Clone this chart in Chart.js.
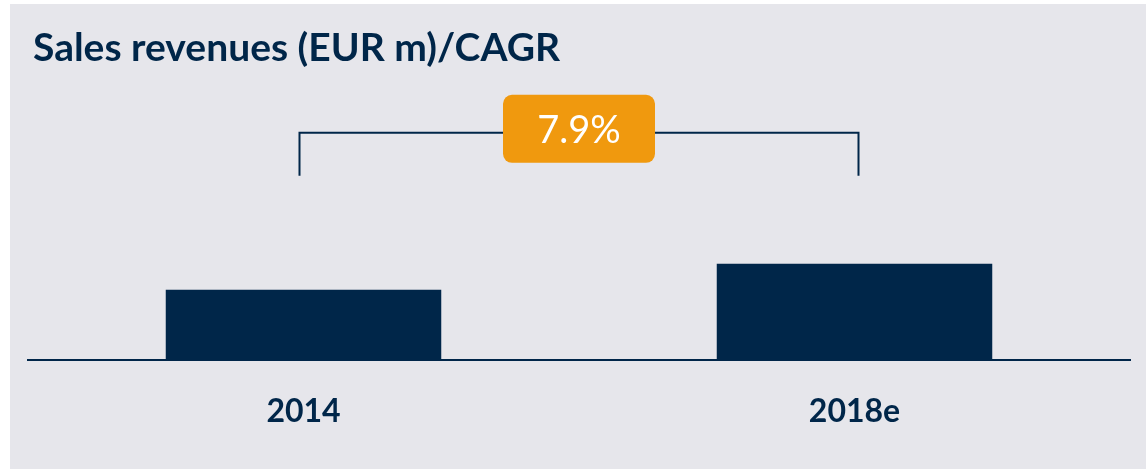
<!DOCTYPE html>
<html>
<head>
<meta charset="utf-8">
<script src="https://cdn.jsdelivr.net/npm/chart.js@4.4.1/dist/chart.umd.min.js"></script>
<style>
  html, body { margin:0; padding:0; background:#ffffff; }
  #panel { position:absolute; left:10px; top:4px; width:1136px; height:465px; background:#e6e6eb; }
</style>
</head>
<body>
<div id="panel"><canvas id="chart" width="1136" height="465"></canvas></div>
<script>
  // data
  const categories = ['2014', '2018e'];
  const revenues = [27, 37];
  const titleText = 'Sales revenues (EUR m)/CAGR';
  const cagrText = '7.9%';

  const NAVY = '#002649';
  const ORANGE = '#f0990e';

  // title + CAGR bracket, drawn on top of the chart
  const extras = {
    id:'extras',
    afterDraw(chart){
      const ctx = chart.ctx;
      const x = chart.scales.x, y = chart.scales.y;
      ctx.save();
      // title
      ctx.fillStyle = NAVY;
      ctx.font = 'bold 39px Lato';
      ctx.textBaseline = 'alphabetic';
      ctx.textAlign = 'left';
      ctx.fillText(titleText, 23, 57);

      // bracket between the two bars
      const x0 = x.getPixelForValue(0) - 4;
      const x1 = x.getPixelForValue(1) + 4;
      const topBar = Math.min(y.getPixelForValue(revenues[0]), y.getPixelForValue(revenues[1]));
      const yLow = topBar - 88;
      const yHigh = topBar - 131;
      ctx.strokeStyle = NAVY;
      ctx.lineWidth = 2;
      ctx.beginPath();
      ctx.moveTo(x0, yLow); ctx.lineTo(x0, yHigh); ctx.lineTo(x1, yHigh); ctx.lineTo(x1, yLow);
      ctx.stroke();

      // orange label box
      const cx = (x0 + x1) / 2, cy = yHigh - 4;
      const w = 152, h = 68, r = 9;
      ctx.fillStyle = ORANGE;
      ctx.beginPath();
      ctx.roundRect(cx - w/2, cy - h/2, w, h, r);
      ctx.fill();
      ctx.fillStyle = '#ffffff';
      ctx.font = '38px Lato';
      ctx.textAlign = 'center';
      ctx.textBaseline = 'middle';
      ctx.fillText(cagrText, cx, cy + 2);
      ctx.restore();
    }
  };

  new Chart(document.getElementById('chart'), {
    type:'bar',
    data:{
      labels: categories,
      datasets:[{ data: revenues, backgroundColor: NAVY, borderWidth:0, barPercentage:0.5, categoryPercentage:1 }]
    },
    options:{
      responsive:false,
      animation:false,
      layout:{ padding:{ top:96, left:18, right:16, bottom:0 } },
      plugins:{ legend:{display:false}, tooltip:{enabled:false}, title:{display:false} },
      scales:{
        x:{
          grid:{ display:false, drawTicks:false },
          border:{ display:true, color:NAVY, width:2 },
          ticks:{ color:NAVY, font:{ family:'Lato', size:32, weight:'bold' }, padding:32 },
          afterFit(scale){ scale.height = 109; }
        },
        y:{ display:false, min:0, max:100 }
      }
    },
    plugins:[extras]
  });
</script>
</body>
</html>
